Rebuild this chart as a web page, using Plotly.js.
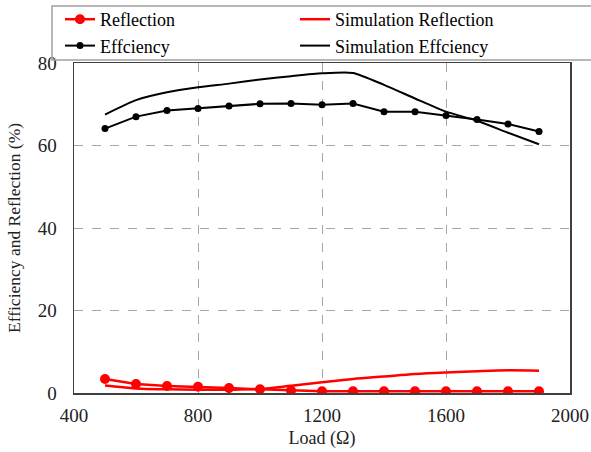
<!DOCTYPE html>
<html><head><meta charset="utf-8">
<script src="https://cdn.plot.ly/plotly-3.0.1.min.js"></script>
<style>body{margin:0;background:#fff}#chart{width:591px;height:452px}</style>
</head><body><div id="chart"></div>
<script>
var loads = [500,600,700,800,900,1000,1100,1200,1300,1400,1500,1600,1700,1800,1900];
var reflection = [3.4,2.2,1.7,1.5,1.2,0.9,0.6,0.4,0.4,0.4,0.4,0.4,0.4,0.4,0.4];
var simReflection = [1.8,1.1,0.9,0.8,0.8,1.0,1.75,2.6,3.4,4.0,4.6,5.0,5.3,5.5,5.4];
var efficiency = [64.1,67.0,68.5,69.0,69.6,70.1,70.2,69.9,70.2,68.2,68.2,67.3,66.3,65.2,63.4];
var simEfficiency = [67.5,71.0,72.9,74.1,75.0,76.0,76.8,77.5,77.6,74.7,71.4,68.2,66.0,63.1,60.3];
var xTicks = [400,800,1200,1600,2000];
var yTicks = [0,20,40,60,80];

var font = 'Liberation Serif, Times New Roman, serif';
var traces = [
  {x: loads, y: reflection, name: 'Reflection', mode: 'lines+markers',
   line: {color: '#ff0000', width: 2.5}, marker: {color: '#ff0000', size: 10}},
  {x: loads, y: simReflection, name: 'Simulation Reflection', mode: 'lines',
   line: {color: '#ff0000', width: 2.5, shape: 'spline'}},
  {x: loads, y: efficiency, name: 'Effciency', mode: 'lines+markers',
   line: {color: '#000000', width: 2}, marker: {color: '#000000', size: 7}},
  {x: loads, y: simEfficiency, name: 'Simulation Effciency', mode: 'lines',
   line: {color: '#000000', width: 2, shape: 'spline', smoothing: 0.6}}
];
var pw = 496, ph = 330;
var layout = {
  width: 591, height: 452,
  margin: {l: 74, r: 21, t: 63, b: 59, autoexpand: false},
  paper_bgcolor: '#fff', plot_bgcolor: '#fff',
  font: {family: font, size: 18, color: '#222'},
  showlegend: true,
  legend: {orientation: 'h', x: (60-74)/pw, xanchor: 'left', y: (393-1)/ph, yanchor: 'top',
    entrywidth: 190, bgcolor: 'rgba(0,0,0,0)', borderwidth: 0,
    font: {family: font, size: 18, color: '#000'}, traceorder: 'normal', tracegroupgap: 0},
  xaxis: {range: [400, 2000], tickvals: xTicks, ticktext: xTicks.map(String),
    showgrid: true, gridcolor: '#a6a6a6', griddash: 'dash', gridwidth: 1,
    showline: true, mirror: true, linecolor: '#404040', linewidth: 1.5,
    zeroline: false, ticks: '', ticklabelstandoff: 5, tickfont: {family: font, size: 19, color: '#222'},
    title: {text: 'Load (Ω)', font: {family: font, size: 18, color: '#222'}, standoff: 6}},
  yaxis: {range: [0, 80], tickvals: yTicks, ticktext: yTicks.map(String),
    showgrid: true, gridcolor: '#a6a6a6', griddash: 'dash', gridwidth: 1,
    showline: true, mirror: true, linecolor: '#404040', linewidth: 1.5,
    zeroline: false, ticks: '', ticklabelstandoff: 12, tickfont: {family: font, size: 19, color: '#222'},
    title: {text: 'Efficiency and Reflection (%)', font: {family: font, size: 17.5, color: '#222'}, standoff: 12}},
  shapes: [{type: 'rect', xref: 'paper', yref: 'paper',
    x0: (52-74)/pw, x1: (600-74)/pw, y0: (393-60)/ph, y1: (393-6)/ph,
    line: {color: '#a0a0a0', width: 1.5}, fillcolor: 'rgba(0,0,0,0)', layer: 'above'}]
};
Plotly.newPlot('chart', traces, layout, {displayModeBar: false, staticPlot: true});
</script></body></html>
